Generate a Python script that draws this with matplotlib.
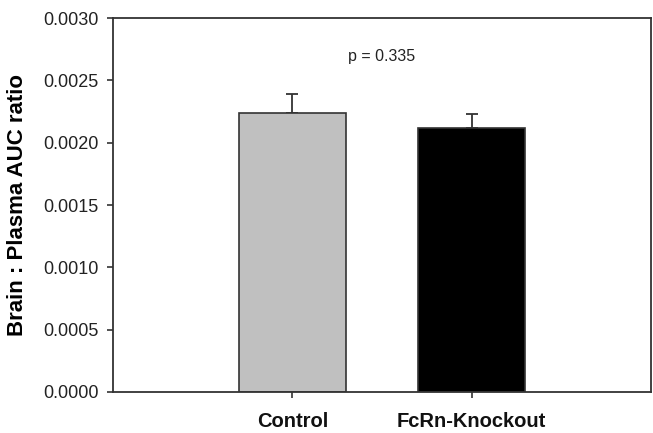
import matplotlib.pyplot as plt
import numpy as np

groups = ['Control', 'FcRn-Knockout']
ratio = [0.00224, 0.00212]
sem = [0.00015, 0.00011]
bar_colors = ['#c0c0c0', '#000000']
yticks = [0.0, 0.0005, 0.0010, 0.0015, 0.0020, 0.0025, 0.0030]

plt.rcParams['font.family'] = ['Liberation Sans', 'DejaVu Sans']

fig = plt.figure(figsize=(6.53, 4.33), dpi=100)
ax = fig.add_axes([0.173, 0.095, 0.824, 0.863])

x = np.arange(1, len(groups) + 1)
ax.bar(x, ratio, width=0.6, color=bar_colors, edgecolor='#333333', linewidth=1.2, zorder=2)
ax.errorbar(x, ratio, yerr=[np.zeros(len(sem)), sem], fmt='none', ecolor='#333333',
            elinewidth=1.3, capsize=4.5, capthick=1.3, zorder=1)

ax.set_xlim(0, 3)
ax.set_ylim(0, 0.003)
ax.set_yticks(yticks)
ax.set_yticklabels([f'{v:.4f}' for v in yticks], fontsize=13, color='#222222')
ax.set_xticks(x)
ax.set_xticklabels(groups, fontsize=14.5, fontweight='bold', color='#111111')
ax.tick_params(axis='both', direction='out', length=4.5, width=1.2, color='#333333')
ax.tick_params(axis='y', pad=6)
ax.tick_params(axis='x', pad=10)

for s in ax.spines.values():
    s.set_linewidth(1.3)
    s.set_color('#333333')

ax.set_ylabel('Brain : Plasma AUC ratio', fontsize=16, fontweight='bold', labelpad=11)
ax.text(1.5, 0.00269, 'p = 0.335', ha='center', va='center', fontsize=11.5, color='#222222')

fig.savefig('out.png', dpi=100)
